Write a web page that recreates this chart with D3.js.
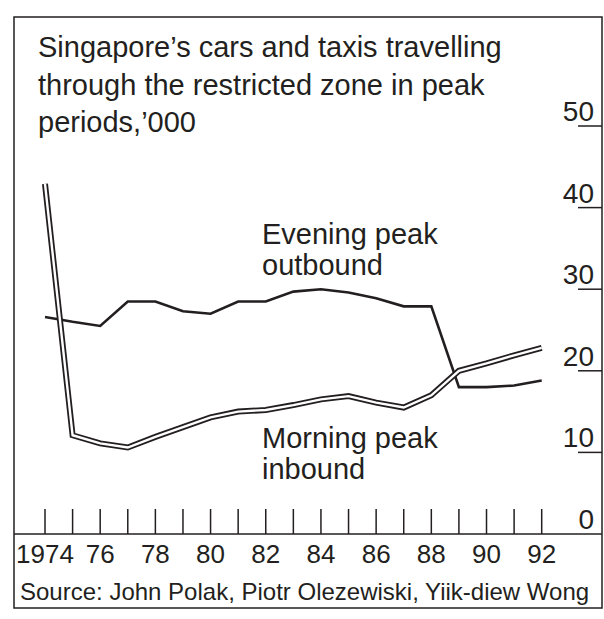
<!DOCTYPE html>
<html>
<head>
<meta charset="UTF-8">
<script src="https://cdn.jsdelivr.net/npm/d3@7"></script>
<style>
  body { margin: 0; background: #fff; }
  text { font-family: "Liberation Sans", Arial, sans-serif; fill: #231f20; }
</style>
</head>
<body>
<script>
// data ('000 vehicles)
var years = [1974, 1975, 1976, 1977, 1978, 1979, 1980, 1981, 1982, 1983,
             1984, 1985, 1986, 1987, 1988, 1989, 1990, 1991, 1992];
var evening = [26.6, 26.0, 25.5, 28.5, 28.5, 27.3, 27.0, 28.5, 28.5, 29.7,
               30.0, 29.6, 28.9, 27.9, 27.9, 18.0, 18.0, 18.2, 18.8];
var morning = [42.9, 12.1, 11.1, 10.6, 11.9, 13.1, 14.3, 15.0, 15.2, 15.8,
               16.5, 16.9, 16.1, 15.5, 17.0, 20.0, 20.9, 21.9, 22.8];
var yearLabels = ["1974", "76", "78", "80", "82", "84", "86", "88", "90", "92"];
var yTicks = [0, 10, 20, 30, 40, 50];
var titleLines = ["Singapore\u2019s cars and taxis travelling",
                  "through the restricted zone in peak",
                  "periods,\u2019000"];
var source = "Source: John Polak, Piotr Olezewiski, Yiik-diew Wong";

var W = 604, H = 619;
var ink = "#231f20";

var svg = d3.select("body").append("svg")
  .attr("width", W)
  .attr("height", H);

var x = d3.scaleLinear().domain([1974, 1992]).range([45, 541.7]);
var y = d3.scaleLinear().domain([0, 50]).range([534, 126]);

// outer frame
svg.append("rect")
  .attr("x", 14).attr("y", 17)
  .attr("width", 588).attr("height", 591)
  .attr("fill", "none")
  .attr("stroke", ink)
  .attr("stroke-width", 1.5);

// baseline of the plot
svg.append("line")
  .attr("x1", 14).attr("x2", 602)
  .attr("y1", y(0)).attr("y2", y(0))
  .attr("stroke", ink).attr("stroke-width", 1.5);

// title
svg.append("g").selectAll("text")
  .data(titleLines)
  .enter().append("text")
  .attr("x", 38)
  .attr("y", function(d, i) { return 57 + i * 37.5; })
  .style("font-size", "29px")
  .text(function(d) { return d; });

// right hand value axis: number sitting on a short rule
var yAxis = svg.append("g").attr("class", "axis-y");
yAxis.selectAll("line")
  .data(yTicks.filter(function(d) { return d > 0; }))
  .enter().append("line")
  .attr("x1", 578).attr("x2", 602)
  .attr("y1", function(d) { return y(d); })
  .attr("y2", function(d) { return y(d); })
  .attr("stroke", ink).attr("stroke-width", 1.5);
yAxis.selectAll("text")
  .data(yTicks)
  .enter().append("text")
  .attr("x", 594)
  .attr("y", function(d) { return y(d) - 5; })
  .attr("text-anchor", "end")
  .style("font-size", "28px")
  .text(function(d) { return d; });

// year ticks
svg.append("g").selectAll("line")
  .data(years)
  .enter().append("line")
  .attr("x1", function(d) { return x(d); })
  .attr("x2", function(d) { return x(d); })
  .attr("y1", y(0) - 25).attr("y2", y(0))
  .attr("stroke", ink).attr("stroke-width", 1.5);

svg.append("g").selectAll("text")
  .data(yearLabels)
  .enter().append("text")
  .attr("x", function(d, i) { return x(1974 + i * 2); })
  .attr("y", 563)
  .attr("text-anchor", "middle")
  .style("font-size", "26px")
  .text(function(d) { return d; });

// lines
var line = d3.line()
  .x(function(d, i) { return x(years[i]); })
  .y(function(d) { return y(d); });

svg.append("path")
  .datum(evening)
  .attr("d", line)
  .attr("fill", "none")
  .attr("stroke", ink)
  .attr("stroke-width", 2.6)
  .attr("stroke-linejoin", "miter");

// morning line is drawn hollow: thick dark stroke with a white core
svg.append("path")
  .datum(morning)
  .attr("d", line)
  .attr("fill", "none")
  .attr("stroke", ink)
  .attr("stroke-width", 6)
  .attr("stroke-linejoin", "miter");
svg.append("path")
  .datum(morning)
  .attr("d", line)
  .attr("fill", "none")
  .attr("stroke", "#fff")
  .attr("stroke-width", 2.4)
  .attr("stroke-linejoin", "miter");

// series labels
var labels = [
  {lines: ["Evening peak", "outbound"], y: 244},
  {lines: ["Morning peak", "inbound"], y: 448}
];
labels.forEach(function(l) {
  svg.append("g").selectAll("text")
    .data(l.lines)
    .enter().append("text")
    .attr("x", 262)
    .attr("y", function(d, i) { return l.y + i * 31; })
    .style("font-size", "29px")
    .text(function(d) { return d; });
});

// source
svg.append("text")
  .attr("x", 20)
  .attr("y", 600)
  .style("font-size", "24px")
  .text(source);
</script>
</body>
</html>
